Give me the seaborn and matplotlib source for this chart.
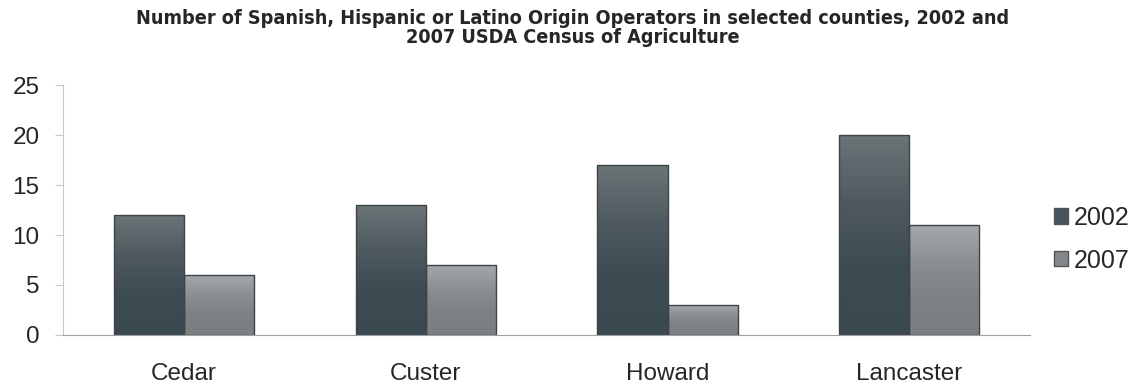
import matplotlib
matplotlib.use("Agg")
import matplotlib.pyplot as plt
import numpy as np
import pandas as pd
import seaborn as sns
from matplotlib.patches import Patch
from matplotlib.colors import LinearSegmentedColormap

# data
counties = ["Cedar", "Custer", "Howard", "Lancaster"]
ops_2002 = [12, 13, 17, 20]
ops_2007 = [6, 7, 3, 11]
years = ["2002", "2007"]

df = pd.DataFrame({
    "county": counties * 2,
    "year": [years[0]] * 4 + [years[1]] * 4,
    "operators": ops_2002 + ops_2007,
})

sns.set_style("white")
plt.rcParams['font.family'] = ['Liberation Sans', 'DejaVu Sans']

fig = plt.figure(figsize=(11.46, 3.89), dpi=100)
ax = fig.add_axes([0.055, 0.139, 0.844, 0.642])

base_cols = {"2002": "#46535a", "2007": "#85898c"}
sns.barplot(data=df, x="county", y="operators", hue="year", palette=base_cols,
            width=0.58, gap=0, ax=ax, legend=False, saturation=1,
            edgecolor="#3c4448", linewidth=1.0)

# vertical shading on each bar
grads = {
    "2002": ["#6a7376", "#4f5a60", "#3d4b53", "#3a4850"],
    "2007": ["#a5a8aa", "#8b8f92", "#7c8184", "#7a7f82"],
}
n = len(counties)
for i, bar in enumerate(ax.patches[:2 * n]):
    yr = years[i // n]
    cmap = LinearSegmentedColormap.from_list(yr, grads[yr][::-1])
    x0, y0 = bar.get_x(), bar.get_y()
    w, h = bar.get_width(), bar.get_height()
    grad = np.linspace(0, 1, 100).reshape(-1, 1)
    im = ax.imshow(grad, cmap=cmap, aspect="auto", origin="lower",
                   extent=[x0, x0 + w, y0, y0 + h], zorder=bar.get_zorder() + 0.1)
    im.set_clip_path(bar)
    bar.set_facecolor("none")
    bar.set_zorder(bar.get_zorder() + 0.2)

ax.set_xlim(-0.5, n - 0.5)
ax.set_ylim(0, 25)
ax.set_yticks([0, 5, 10, 15, 20, 25])
ax.set_xlabel("")
ax.set_ylabel("")
for s in ["top", "right"]:
    ax.spines[s].set_visible(False)
ax.spines["left"].set_color("#c8c8c8")
ax.spines["bottom"].set_color("#a0a0a0")
ax.tick_params(axis="y", left=True, length=6, color="#c8c8c8", labelsize=17.5, pad=11)
ax.tick_params(axis="x", bottom=False, labelsize=17.5, pad=17)

fig.suptitle("Number of Spanish, Hispanic or Latino Origin Operators in selected counties, 2002 and\n"
             "2007 USDA Census of Agriculture",
             y=0.978, fontsize=14.2, fontweight="bold", linespacing=1.05,
             fontstretch="condensed",
             family=['DejaVu Sans', 'Liberation Sans'])

handles = [Patch(facecolor=base_cols[y], edgecolor="#555555") for y in years]
fig.legend(handles, years, loc="center left", bbox_to_anchor=(0.9, 0.385),
           frameon=False, fontsize=18, handlelength=0.55, handleheight=0.55,
           handletextpad=0.25, labelspacing=0.75)

fig.savefig("out.png", dpi=100)
